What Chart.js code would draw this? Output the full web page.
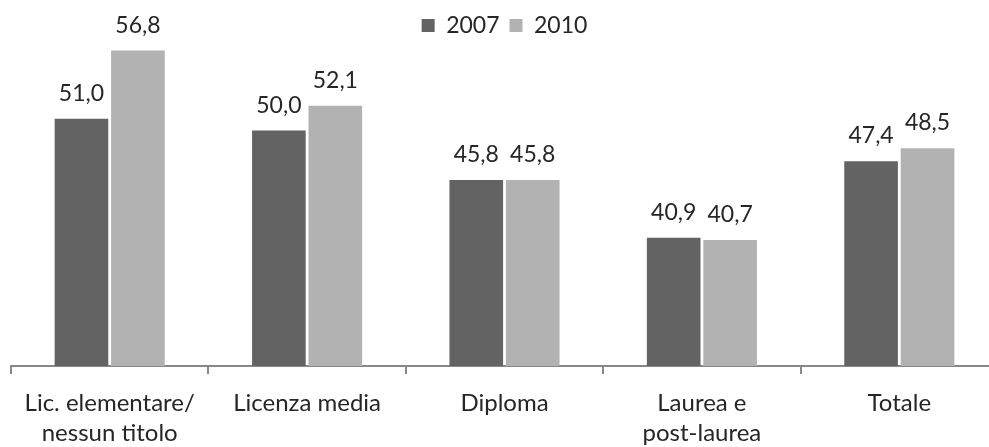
<!DOCTYPE html>
<html>
<head>
<meta charset="utf-8">
<script src="https://cdn.jsdelivr.net/npm/chart.js@4"></script>
<style>
  html, body { margin: 0; padding: 0; background: #fff; overflow: hidden; }
  #wrap { width: 1000px; height: 447px; }
</style>
</head>
<body>
<div id="wrap"><canvas id="chart"></canvas></div>
<script>
const categories = [
  ['Lic. elementare/', 'nessun titolo'],
  'Licenza media',
  'Diploma',
  ['Laurea e', 'post-laurea'],
  'Totale'
];
const series2007 = [51.0, 50.0, 45.8, 40.9, 47.4];
const series2010 = [56.8, 52.1, 45.8, 40.7, 48.5];

const FONT = 'Lato';

// numbers above the bars, comma decimal
const valueLabels = {
  id: 'valueLabels',
  afterDatasetsDraw(chart) {
    const ctx = chart.ctx;
    ctx.save();
    ctx.font = '23px ' + FONT;
    ctx.fillStyle = '#262626';
    ctx.textAlign = 'center';
    ctx.textBaseline = 'alphabetic';
    chart.data.datasets.forEach((ds, i) => {
      chart.getDatasetMeta(i).data.forEach((bar, j) => {
        ctx.fillText(ds.data[j].toFixed(1).replace('.', ','), bar.x, bar.y - 18);
      });
    });
    ctx.restore();
  }
};

new Chart(document.getElementById('chart').getContext('2d'), {
  type: 'bar',
  data: {
    labels: categories,
    datasets: [
      { label: '2007', data: series2007, backgroundColor: '#636363' },
      { label: '2010', data: series2010, backgroundColor: '#b2b2b2' }
    ]
  },
  options: {
    responsive: true,
    maintainAspectRatio: false,
    animation: false,
    layout: { padding: { left: 11, right: 2, top: 4, bottom: -15 } },
    datasets: { bar: { categoryPercentage: 0.572, barPercentage: 0.95 } },
    plugins: {
      legend: {
        position: 'top',
        align: 'center',
        labels: {
          boxWidth: 13,
          boxHeight: 13,
          padding: 10,
          color: '#262626',
          font: { family: FONT, size: 23 }
        }
      },
      tooltip: { enabled: false }
    },
    scales: {
      y: { display: false, min: 30, max: 57.1 },
      x: {
        grid: {
          offset: true,
          drawOnChartArea: false,
          drawTicks: true,
          tickLength: 8,
          color: '#888888',
          lineWidth: 2
        },
        border: { color: '#888888', width: 2 },
        ticks: {
          color: '#262626',
          padding: 14,
          maxRotation: 0,
          autoSkip: false,
          font: { family: FONT, size: 24, lineHeight: 1.25 }
        }
      }
    }
  },
  plugins: [valueLabels]
});
</script>
</body>
</html>
